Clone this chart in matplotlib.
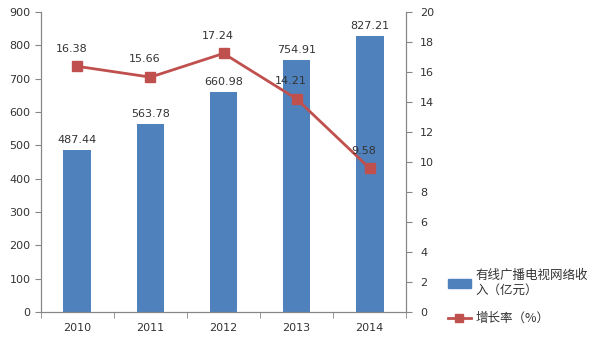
import numpy as np
import matplotlib.pyplot as plt
from matplotlib.lines import Line2D
from matplotlib.patches import Patch

plt.rcParams['font.family'] = ['DejaVu Sans', 'Noto Sans CJK SC']

years = ['2010', '2011', '2012', '2013', '2014']
income = [487.44, 563.78, 660.98, 754.91, 827.21]
growth = [16.38, 15.66, 17.24, 14.21, 9.58]

bar_color = '#4F81BD'
line_color = '#C0504D'
text_color = '#333333'

fig = plt.figure(figsize=(6, 3.44), dpi=100)
ax = fig.add_axes([0.068, 0.093, 0.609, 0.872])
ax2 = ax.twinx()

x = np.arange(len(years))
ax.bar(x, income, width=0.38, color=bar_color, zorder=2)
for xi, v in zip(x, income):
    ax.text(xi, v + 15, f'{v:.2f}', ha='center', va='bottom', fontsize=8, color=text_color)

ax2.plot(x, growth, color=line_color, lw=2, marker='s', ms=7, zorder=3)
for xi, v in zip(x, growth):
    ax2.text(xi - 0.08, v + 0.85, f'{v:.2f}', ha='center', va='bottom', fontsize=8, color=text_color)

ax.set_xlim(-0.5, 4.5)
ax.set_ylim(0, 900)
ax.set_yticks(range(0, 901, 100))
ax2.set_ylim(0, 20)
ax2.set_yticks(range(0, 21, 2))

ax.set_xticks(x)
ax.set_xticklabels(years)
ax.set_xticks(np.arange(-0.5, 5, 1), minor=True)
ax.tick_params(axis='x', which='major', length=0, pad=8)
ax.tick_params(axis='x', which='minor', length=4, color='#868686')
ax.tick_params(axis='y', length=4, color='#868686')
ax2.tick_params(axis='y', length=4, color='#868686', pad=6)

for a in (ax, ax2):
    a.tick_params(labelsize=8, labelcolor=text_color)
    a.spines['top'].set_visible(False)
    for s in ('left', 'right', 'bottom'):
        a.spines[s].set_color('#868686')

handles = [Patch(color=bar_color),
           Line2D([0], [0], color=line_color, lw=2, marker='s', ms=6)]
labels = ['有线广播电视网络收\n入（亿元）', '增长率（%）']
fig.legend(handles, labels, loc='lower left', bbox_to_anchor=(0.728, 0.022),
           frameon=False, labelspacing=1.2, handlelength=1.8, handletextpad=0.4,
           labelcolor=text_color,
           prop={'family': ['Noto Sans CJK SC', 'DejaVu Sans'], 'size': 9})

fig.savefig('out.png', dpi=100)
